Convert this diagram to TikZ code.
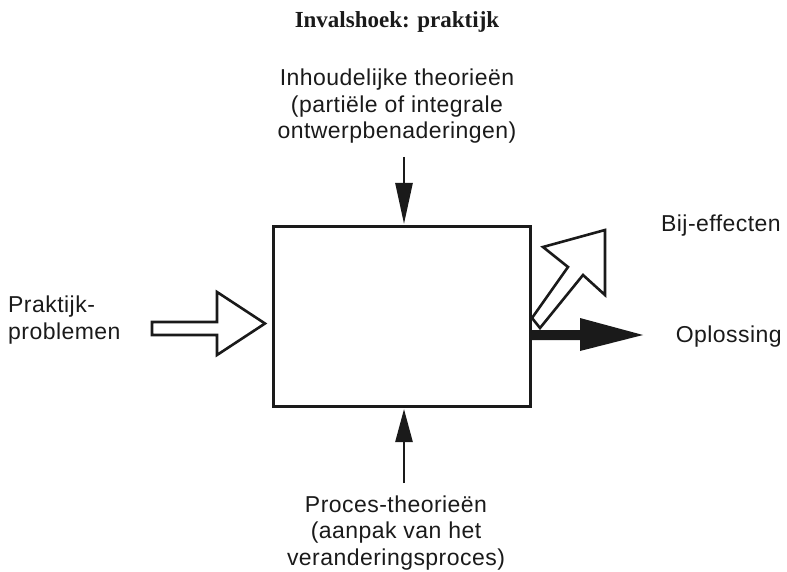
\documentclass[tikz,border=0pt]{standalone}
\usepackage{fontspec}
\setmainfont[LetterSpace=2]{Liberation Sans}
\newfontfamily\titlefont{Liberation Serif}
\usetikzlibrary{arrows.meta}
\definecolor{ink}{HTML}{1A1A1A}
\begin{document}
\begin{tikzpicture}[x=1pt,y=-1pt,
  lbl/.style={inner sep=0pt, anchor=base, text=ink, font=\fontsize{23}{27}\selectfont},
  lblw/.style={lbl, anchor=base west},
  lble/.style={lbl, anchor=base east},
  hollow/.style={draw=ink, fill=white, line width=2.6pt, line join=miter},
  solidarrow/.style={draw=ink, line width=2.6pt}]
\useasboundingbox (0,0) rectangle (787,572);
\node[lbl, font=\fontsize{23}{27}\titlefont\bfseries\selectfont] (title) at (397,28) {Invalshoek: praktijk};
% top label
\node[lbl] (t1) at (397,86) {Inhoudelijke theorieën};
\node[lbl] (t2) at (397,112.5) {(partiële of integrale};
\node[lbl] (t3) at (397,139) {ontwerpbenaderingen)};
% box
\node[draw=ink, line width=3pt, minimum width=257pt, minimum height=179pt, inner sep=0pt] (box) at (401.5,316.5) {};
% top arrow
\coordinate (tstart) at (404,157);
\draw[solidarrow, -{Triangle[length=41pt,width=17pt]}, shorten >=1.5pt] (tstart) -- (tstart |- box.north);
% bottom arrow
\coordinate (bstart) at (404,483);
\draw[solidarrow, -{Triangle[length=33pt,width=17pt]}, shorten >=1.5pt] (bstart) -- (bstart |- box.south);
% bottom label
\node[lbl] (b1) at (396,512) {Proces-theorieën};
\node[lbl] (b2) at (396,538) {(aanpak van het};
\node[lbl] (b3) at (396,565) {veranderingsproces)};
% left
\node[lblw] (l1) at (8,312) {Praktijk-};
\node[lblw] (l2) at (8,339) {problemen};
\draw[hollow] (152,322) -- (217,322) -- (217,292) -- (265,323.5) -- (217,355) -- (217,335) -- (152,335) -- cycle;
% right
\node[lble] (r1) at (781,232) {Bij-effecten};
\node[lble] (r2) at (782,342) {Oplossing};
\draw[hollow] (532,318) -- (568,267) -- (543,247) -- (605,230) -- (605,295) -- (583,275) -- (540,328) -- cycle;
\fill[ink] (box.east |- 0,330) -- (580,330) -- (580,318) -- (643,335) -- (580,351) -- (580,340) -- (box.east |- 0,340) -- cycle;
\end{tikzpicture}
\end{document}
